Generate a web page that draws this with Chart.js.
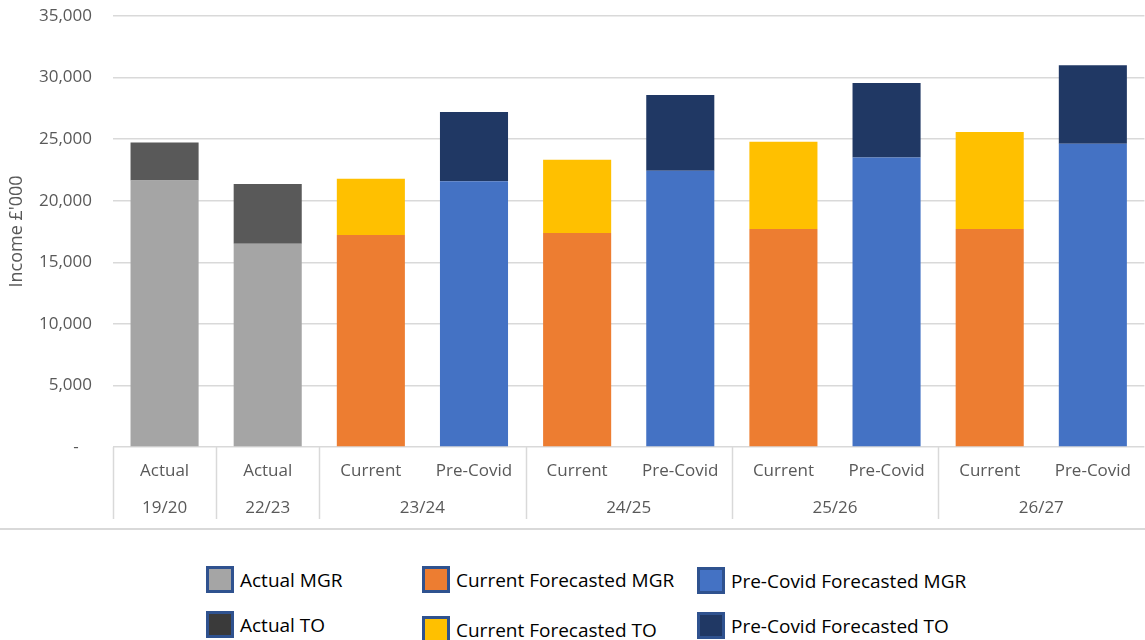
<!DOCTYPE html>
<html>
<head>
<meta charset="utf-8">
<script src="https://cdn.jsdelivr.net/npm/chart.js@4"></script>
<style>
    body { margin: 0; background: #fff; font-family: "Open Sans", sans-serif; }
    #wrap { position: relative; width: 1145px; height: 640px; }
    #chartBox { position: absolute; left: 0; top: 0; width: 1145px; height: 535px; }
    .legend-item { position: absolute; display: flex; align-items: center; font-size: 19px; color: #000; white-space: nowrap; }
    .legend-box { width: 22px; height: 21px; border: 3px solid #2F528F; margin-right: 6px; }
</style>
</head>
<body>
<div id="wrap">
    <div id="chartBox"><canvas id="incomeChart"></canvas></div>
    <div id="legend"></div>
</div>
<script>
// Category labels (first row) and year groups (second row)
const categories = ["Actual", "Actual", "Current", "Pre-Covid", "Current", "Pre-Covid", "Current", "Pre-Covid", "Current", "Pre-Covid"];
const years = ["19/20", "22/23", "23/24", "23/24", "24/25", "24/25", "25/26", "25/26", "26/27", "26/27"];

// Income £'000 per series
const actualMGR = [21650, 16500, null, null, null, null, null, null, null, null];
const actualTO = [3080, 4850, null, null, null, null, null, null, null, null];
const currentMGR = [null, null, 17220, null, 17380, null, 17700, null, 17700, null];
const currentTO = [null, null, 4570, null, 5950, null, 7090, null, 7880, null];
const preCovidMGR = [null, null, null, 21580, null, 22440, null, 23500, null, 24630];
const preCovidTO = [null, null, null, 5630, null, 6150, null, 6060, null, 6370];

const yTicks = [0, 5000, 10000, 15000, 20000, 25000, 30000, 35000];

const gridColor = "#d9d9d9";
const textColor = "#595959";

const series = [
    { label: "Actual MGR", data: actualMGR, color: "#A5A5A5", legendColor: "#A5A5A5" },
    { label: "Actual TO", data: actualTO, color: "#595959", legendColor: "#3A3A3A" },
    { label: "Current Forecasted MGR", data: currentMGR, color: "#ED7D31", legendColor: "#ED7D31" },
    { label: "Current Forecasted TO", data: currentTO, color: "#FFC000", legendColor: "#FFC000" },
    { label: "Pre-Covid Forecasted MGR", data: preCovidMGR, color: "#4472C4", legendColor: "#4472C4" },
    { label: "Pre-Covid Forecasted TO", data: preCovidTO, color: "#203864", legendColor: "#203864" }
];

// Draws the year groups, separators and the bottom border line
const groupAxisPlugin = {
    id: "groupAxis",
    afterDraw(chart) {
        const ctx = chart.ctx;
        const x = chart.scales.x;
        const area = chart.chartArea;
        const step = x.getPixelForValue(1) - x.getPixelForValue(0);

        ctx.save();
        ctx.strokeStyle = gridColor;
        ctx.lineWidth = 1.5;

        // separators
        for (let i = 0; i < years.length; i++) {
            if (i === 0 || years[i] !== years[i - 1]) {
                const sx = Math.round(x.getPixelForValue(i) - step / 2) + 0.5;
                ctx.beginPath();
                ctx.moveTo(sx, area.bottom);
                ctx.lineTo(sx, area.bottom + 72);
                ctx.stroke();
            }
        }

        // group labels
        ctx.fillStyle = textColor;
        ctx.font = "17px 'Open Sans'";
        ctx.textAlign = "center";
        ctx.textBaseline = "middle";
        let start = 0;
        for (let i = 1; i <= years.length; i++) {
            if (i === years.length || years[i] !== years[start]) {
                const cx = (x.getPixelForValue(start) + x.getPixelForValue(i - 1)) / 2;
                ctx.fillText(years[start], cx, area.bottom + 61);
                start = i;
            }
        }

        // bottom border of the plot
        ctx.lineWidth = 2;
        ctx.beginPath();
        ctx.moveTo(0, area.bottom + 82);
        ctx.lineTo(chart.width, area.bottom + 82);
        ctx.stroke();
        ctx.restore();
    }
};

const chart = new Chart(document.getElementById("incomeChart"), {
    type: "bar",
    data: {
        labels: categories,
        datasets: series.map(s => ({
            label: s.label,
            data: s.data,
            backgroundColor: s.color,
            stack: "income",
            barPercentage: 0.66,
            categoryPercentage: 1
        }))
    },
    options: {
        responsive: true,
        maintainAspectRatio: false,
        animation: false,
        layout: { padding: { top: 16, left: 0, right: 0, bottom: 0 } },
        plugins: {
            legend: { display: false },
            tooltip: { enabled: false }
        },
        scales: {
            x: {
                stacked: true,
                grid: { display: false, drawTicks: false },
                border: { display: false },
                ticks: {
                    color: textColor,
                    font: { family: "Open Sans", size: 17 },
                    padding: 14,
                    maxRotation: 0,
                    autoSkip: false
                },
                afterFit(scale) { scale.height = 88; }
            },
            y: {
                stacked: true,
                min: 0,
                max: 35000,
                afterBuildTicks(scale) { scale.ticks = yTicks.map(v => ({ value: v })); },
                grid: { color: gridColor, lineWidth: 1.5, drawTicks: false },
                border: { display: false },
                ticks: {
                    color: textColor,
                    font: { family: "Open Sans", size: 17 },
                    padding: 21,
                    callback: v => v === 0 ? "-   " : v.toLocaleString("en-US")
                },
                title: {
                    display: true,
                    text: "Income £'000",
                    color: textColor,
                    font: { family: "Open Sans", size: 18 },
                    padding: { top: 6, bottom: 0 }
                },
                afterFit(scale) {
                    scale.width = 113;
                    scale.paddingTop = 0;
                    scale.paddingBottom = 0;
                }
            }
        }
    },
    plugins: [groupAxisPlugin]
});

// HTML legend, two rows of three
const legendPos = [
    { left: 206, top: 566 }, { left: 206, top: 611 },
    { left: 422, top: 566 }, { left: 422, top: 616 },
    { left: 697, top: 567 }, { left: 697, top: 612 }
];
const legendDiv = document.getElementById("legend");
series.forEach((s, i) => {
    const item = document.createElement("div");
    item.className = "legend-item";
    item.style.left = legendPos[i].left + "px";
    item.style.top = legendPos[i].top + "px";
    item.innerHTML = `<div class="legend-box" style="background:${s.legendColor}"></div><span>${s.label}</span>`;
    legendDiv.appendChild(item);
});
</script>
</body>
</html>
